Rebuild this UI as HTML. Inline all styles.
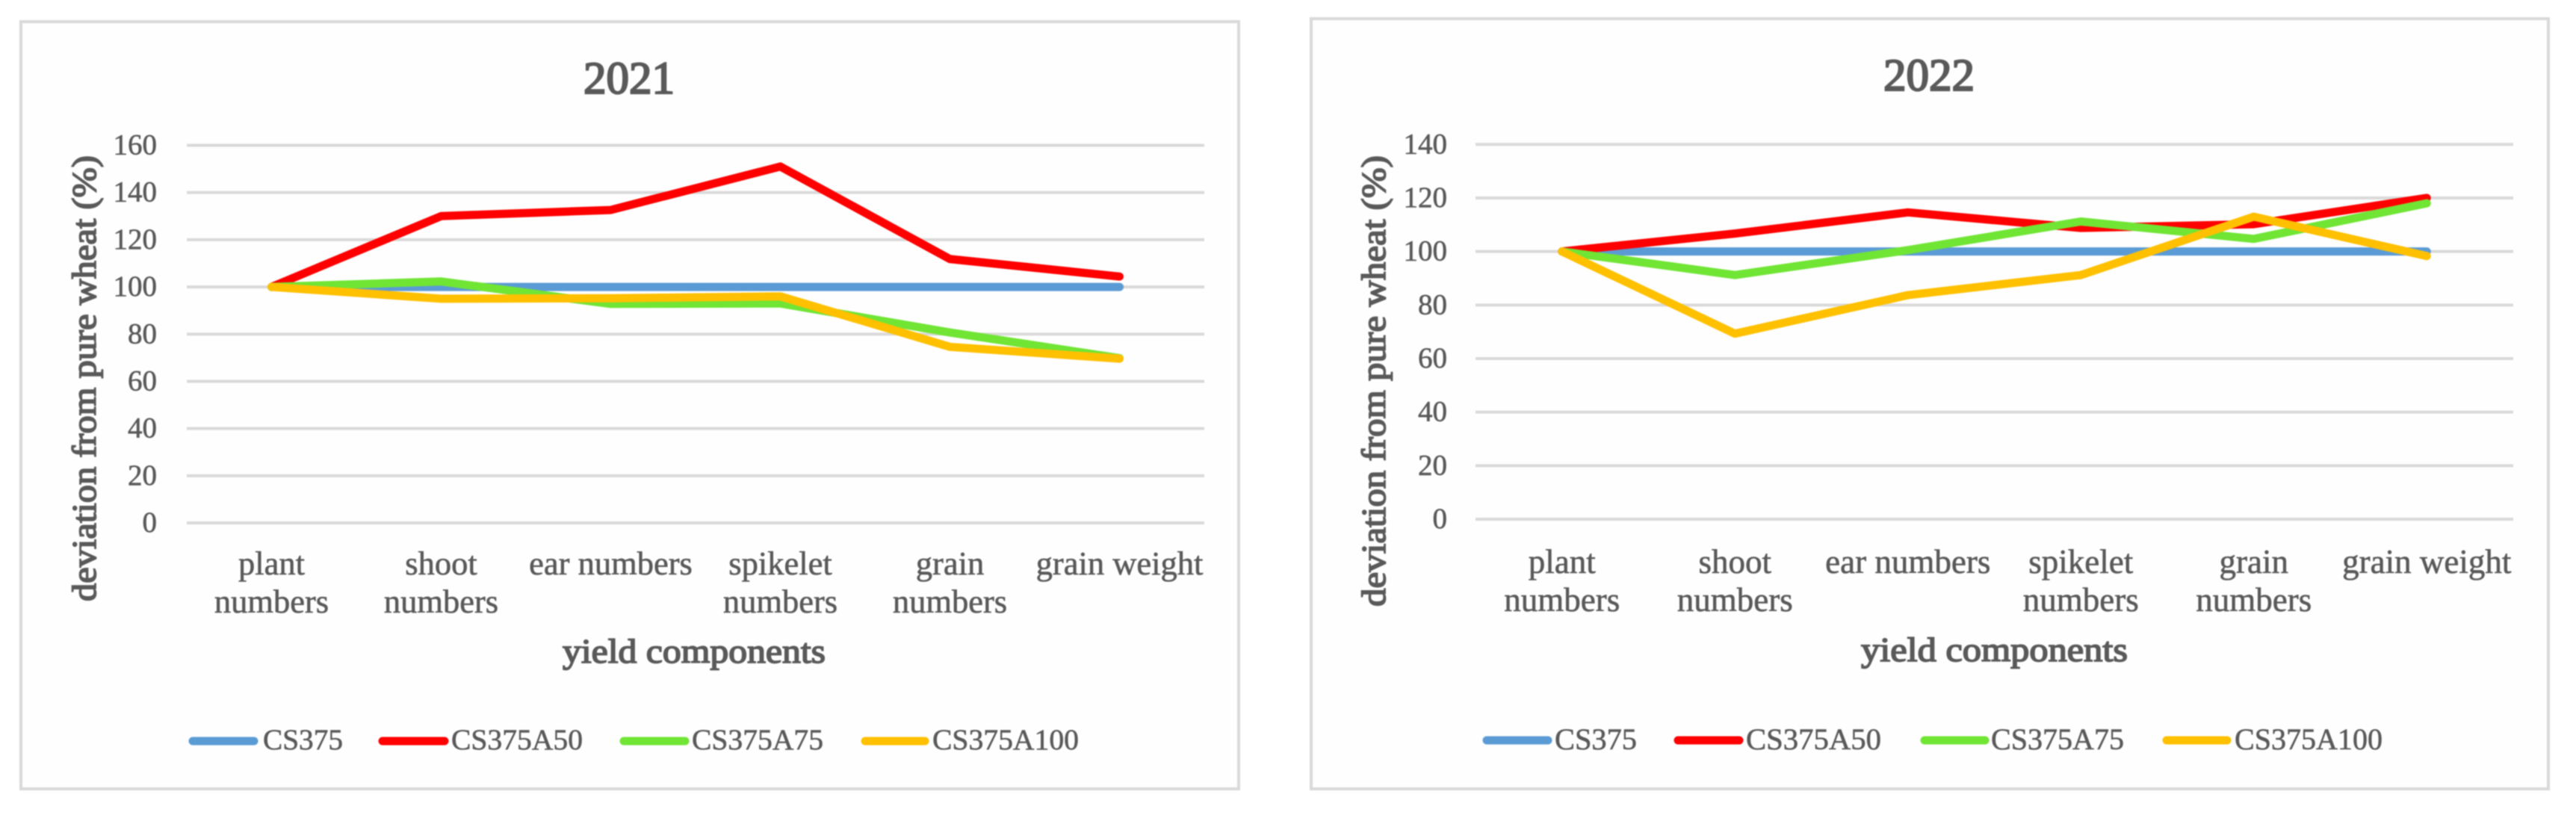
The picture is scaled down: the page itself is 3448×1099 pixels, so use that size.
<!DOCTYPE html>
<html lang="en">
<head>
<meta charset="utf-8">
<title>Deviation from pure wheat, 2021 and 2022</title>
<style>
  html, body { margin: 0; padding: 0; background: #ffffff; }
  body { width: 3448px; height: 1099px; overflow: hidden; }
  svg { display: block; filter: blur(0.8px); }
  text { font-family: "Liberation Serif", serif; fill: #595959; stroke: #595959; stroke-width: 0.6px; }
  .frame { fill: #fefefe; stroke: #d9d9d9; stroke-width: 4; }
  .grid { stroke: #d9d9d9; stroke-width: 4; fill: none; }
  .series { fill: none; stroke-width: 11; stroke-linecap: round; stroke-linejoin: round; }
  .title { font-size: 61px; text-anchor: middle; stroke-width: 2.2px; }
  .axis-title { font-size: 46px; stroke-width: 1.7px; }
  .tick { text-anchor: end; }
  .cat { text-anchor: middle; }
</style>
</head>
<body>
<svg id="figure" xmlns="http://www.w3.org/2000/svg" width="3448" height="1099" viewBox="0 0 3448 1099">
  <g id="panel-2021">
    <rect class="frame" x="28" y="29" width="1630" height="1027"></rect>
    <text class="title" x="842" y="125">2021</text>
    <text class="axis-title" transform="translate(128,805) rotate(-90)" textLength="597" lengthAdjust="spacingAndGlyphs">deviation from pure wheat (%)</text>
    <text class="axis-title" x="753" y="887" textLength="352" lengthAdjust="spacingAndGlyphs">yield components</text>
    <g id="plot-2021"></g>
    <g font-size="39.5">
      <line class="series" x1="258" x2="340" y1="992" y2="992" stroke="#5b9bd5"></line>
      <text x="352" y="1003" textLength="107" lengthAdjust="spacingAndGlyphs">CS375</text>
      <line class="series" x1="512" x2="595" y1="992" y2="992" stroke="#ff0000"></line>
      <text x="604" y="1003" textLength="176" lengthAdjust="spacingAndGlyphs">CS375A50</text>
      <line class="series" x1="835" x2="917" y1="992" y2="992" stroke="#70e534"></line>
      <text x="926" y="1003" textLength="176" lengthAdjust="spacingAndGlyphs">CS375A75</text>
      <line class="series" x1="1158" x2="1238" y1="992" y2="992" stroke="#ffc000"></line>
      <text x="1248" y="1003" textLength="196" lengthAdjust="spacingAndGlyphs">CS375A100</text>
    </g>
  </g>
  <g id="panel-2022">
    <rect class="frame" x="1755" y="25" width="1656" height="1031"></rect>
    <text class="title" x="2582" y="121">2022</text>
    <text class="axis-title" transform="translate(1854,812) rotate(-90)" textLength="604" lengthAdjust="spacingAndGlyphs">deviation from pure wheat (%)</text>
    <text class="axis-title" x="2491" y="885" textLength="357" lengthAdjust="spacingAndGlyphs">yield components</text>
    <g id="plot-2022"></g>
    <g font-size="40.5">
      <line class="series" x1="1990" x2="2072" y1="991" y2="991" stroke="#5b9bd5"></line>
      <text x="2081" y="1003" textLength="110" lengthAdjust="spacingAndGlyphs">CS375</text>
      <line class="series" x1="2246" x2="2328" y1="991" y2="991" stroke="#ff0000"></line>
      <text x="2337" y="1003" textLength="181" lengthAdjust="spacingAndGlyphs">CS375A50</text>
      <line class="series" x1="2576" x2="2657" y1="991" y2="991" stroke="#70e534"></line>
      <text x="2665" y="1003" textLength="178" lengthAdjust="spacingAndGlyphs">CS375A75</text>
      <line class="series" x1="2900" x2="2981" y1="991" y2="991" stroke="#ffc000"></line>
      <text x="2991" y="1003" textLength="198" lengthAdjust="spacingAndGlyphs">CS375A100</text>
    </g>
  </g>
</svg>
<script>
const categories = ["plant numbers", "shoot numbers", "ear numbers", "spikelet numbers", "grain numbers", "grain weight"];
const singleLineCategories = ["ear numbers", "grain weight"];

const ticks2021 = [0, 20, 40, 60, 80, 100, 120, 140, 160];
const cs375_2021 = [100, 100, 100, 100, 100, 100];
const cs375a50_2021 = [100, 130, 132.6, 151, 111.8, 104.4];
const cs375a75_2021 = [100, 102.3, 92.8, 93, 80.7, 69.8];
const cs375a100_2021 = [100, 95, 95.2, 96, 74.6, 69.6];

const ticks2022 = [0, 20, 40, 60, 80, 100, 120, 140];
const cs375_2022 = [100, 100, 100, 100, 100, 100];
const cs375a50_2022 = [100, 106.7, 114.6, 108.8, 110.2, 120];
const cs375a75_2022 = [100, 91.2, 100.5, 111.2, 104.7, 118];
const cs375a100_2022 = [100, 69.3, 83.7, 91.2, 113, 98.3];

const seriesNames = ["cs375", "cs375a50", "cs375a75", "cs375a100"];
const seriesColors = ["#5b9bd5", "#ff0000", "#70e534", "#ffc000"];

const NS = "http://www.w3.org/2000/svg";

function make(tag, attrs, parent) {
  const el = document.createElementNS(NS, tag);
  Object.keys(attrs).forEach(function (k) { el.setAttribute(k, attrs[k]); });
  parent.appendChild(el);
  return el;
}

function drawChart(year, box, ticks, seriesList) {
  const root = document.getElementById("plot-" + year);
  const maxTick = ticks[ticks.length - 1];
  const minTick = ticks[0];
  const band = (box.right - box.left) / categories.length;

  function xScale(i) { return box.left + band * (i + 0.5); }
  function yScale(v) { return box.bottom - (v - minTick) / (maxTick - minTick) * (box.bottom - box.top); }

  ticks.forEach(function (t) {
    const grid = make("line", { class: "grid", x1: box.left, x2: box.right, y1: yScale(t), y2: yScale(t) }, root);
    
    
    const label = make("text", { class: "tick", x: box.tickX, y: yScale(t) + 12, "font-size": 39 }, root);
    
    
    label.textContent = String(t);
  });

  categories.forEach(function (name, i) {
    const lines = singleLineCategories.indexOf(name) >= 0 ? [name] : name.split(" ");
    lines.forEach(function (line, j) {
      const cat = make("text", { class: "cat", x: xScale(i), y: box.catY + j * 51, "font-size": box.catSize }, root);
      
      
      cat.textContent = line;
    });
  });

  seriesList.forEach(function (values, s) {
    const pts = values.map(function (v, i) { return xScale(i) + "," + yScale(v); }).join(" ");
    const line = make("polyline", { class: "series", points: pts, stroke: seriesColors[s] }, root);
    
    
  });
}

drawChart(2021,
  { left: 250, right: 1612, top: 194.5, bottom: 700, tickX: 210, catY: 769, catSize: 44.5 },
  ticks2021,
  [cs375_2021, cs375a50_2021, cs375a75_2021, cs375a100_2021]);

drawChart(2022,
  { left: 1975, right: 3364, top: 193.3, bottom: 695, tickX: 1937, catY: 767, catSize: 45 },
  ticks2022,
  [cs375_2022, cs375a50_2022, cs375a75_2022, cs375a100_2022]);
</script>
</body>
</html>
